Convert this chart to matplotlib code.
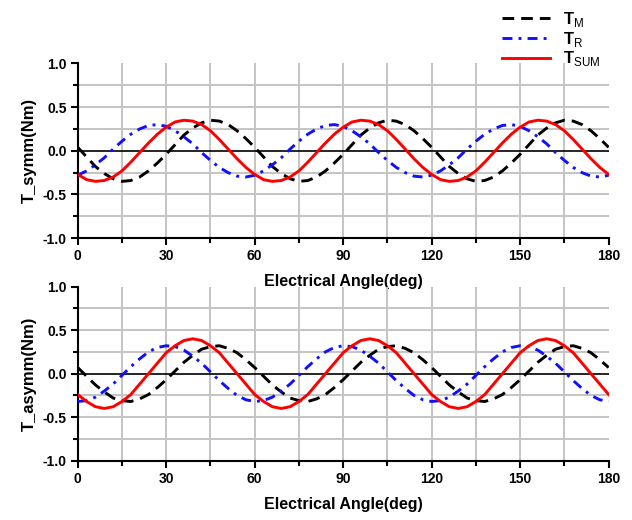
import matplotlib
matplotlib.use('Agg')
import matplotlib.pyplot as plt

plt.rcParams['font.family'] = ['Liberation Sans', 'DejaVu Sans']
plt.rcParams['mathtext.fontset'] = 'custom'
plt.rcParams['mathtext.rm'] = 'Liberation Sans'
plt.rcParams['mathtext.bf'] = 'Liberation Sans:bold'

# electrical angle, every 3 deg from 0 to 180
angle = list(range(0, 181, 3))

# symmetric rotor (top panel)
symm_tm = [0.04, -0.07, -0.18, -0.26, -0.32, -0.35, -0.34, -0.30, -0.23, -0.14,
           -0.04, 0.07, 0.18, 0.26, 0.32, 0.35, 0.34, 0.30, 0.23, 0.14,
           0.04, -0.07, -0.18, -0.26, -0.32, -0.35, -0.34, -0.30, -0.23, -0.14,
           -0.04, 0.07, 0.18, 0.26, 0.32, 0.35, 0.34, 0.30, 0.23, 0.14,
           0.04, -0.07, -0.18, -0.26, -0.32, -0.35, -0.34, -0.30, -0.23, -0.14,
           -0.04, 0.07, 0.18, 0.26, 0.32, 0.35, 0.34, 0.30, 0.23, 0.14,
           0.04]
symm_tr = [-0.28, -0.23, -0.16, -0.08, 0.02, 0.11, 0.19, 0.25, 0.29, 0.30,
           0.28, 0.23, 0.16, 0.08, -0.02, -0.11, -0.19, -0.25, -0.29, -0.30,
           -0.28, -0.23, -0.16, -0.08, 0.02, 0.11, 0.19, 0.25, 0.29, 0.30,
           0.28, 0.23, 0.16, 0.08, -0.02, -0.11, -0.19, -0.25, -0.29, -0.30,
           -0.28, -0.23, -0.16, -0.08, 0.02, 0.11, 0.19, 0.25, 0.29, 0.30,
           0.28, 0.23, 0.16, 0.08, -0.02, -0.11, -0.19, -0.25, -0.29, -0.30,
           -0.28]
symm_tsum = [-0.27, -0.33, -0.35, -0.34, -0.30, -0.23, -0.13, -0.02, 0.09, 0.19,
             0.27, 0.33, 0.35, 0.34, 0.30, 0.23, 0.13, 0.02, -0.09, -0.19,
             -0.27, -0.33, -0.35, -0.34, -0.30, -0.23, -0.13, -0.02, 0.09, 0.19,
             0.27, 0.33, 0.35, 0.34, 0.30, 0.23, 0.13, 0.02, -0.09, -0.19,
             -0.27, -0.33, -0.35, -0.34, -0.30, -0.23, -0.13, -0.02, 0.09, 0.19,
             0.27, 0.33, 0.35, 0.34, 0.30, 0.23, 0.13, 0.02, -0.09, -0.19,
             -0.27]

# asymmetric rotor (bottom panel)
asymm_tm = [0.07, -0.03, -0.13, -0.21, -0.28, -0.31, -0.32, -0.29, -0.24, -0.16,
            -0.07, 0.03, 0.13, 0.21, 0.28, 0.31, 0.32, 0.29, 0.24, 0.16,
            0.07, -0.03, -0.13, -0.21, -0.28, -0.31, -0.32, -0.29, -0.24, -0.16,
            -0.07, 0.03, 0.13, 0.21, 0.28, 0.31, 0.32, 0.29, 0.24, 0.16,
            0.07, -0.03, -0.13, -0.21, -0.28, -0.31, -0.32, -0.29, -0.24, -0.16,
            -0.07, 0.03, 0.13, 0.21, 0.28, 0.31, 0.32, 0.29, 0.24, 0.16,
            0.07]
asymm_tr = [-0.32, -0.31, -0.27, -0.20, -0.12, -0.02, 0.08, 0.17, 0.25, 0.30,
            0.32, 0.31, 0.27, 0.20, 0.12, 0.02, -0.08, -0.17, -0.25, -0.30,
            -0.32, -0.31, -0.27, -0.20, -0.12, -0.02, 0.08, 0.17, 0.25, 0.30,
            0.32, 0.31, 0.27, 0.20, 0.12, 0.02, -0.08, -0.17, -0.25, -0.30,
            -0.32, -0.31, -0.27, -0.20, -0.12, -0.02, 0.08, 0.17, 0.25, 0.30,
            0.32, 0.31, 0.27, 0.20, 0.12, 0.02, -0.08, -0.17, -0.25, -0.30,
            -0.32]
asymm_tsum = [-0.24, -0.32, -0.38, -0.40, -0.38, -0.32, -0.24, -0.12, 0.00, 0.12,
              0.24, 0.32, 0.38, 0.40, 0.38, 0.32, 0.24, 0.12, 0.00, -0.12,
              -0.24, -0.32, -0.38, -0.40, -0.38, -0.32, -0.24, -0.12, 0.00, 0.12,
              0.24, 0.32, 0.38, 0.40, 0.38, 0.32, 0.24, 0.12, 0.00, -0.12,
              -0.24, -0.32, -0.38, -0.40, -0.38, -0.32, -0.24, -0.12, 0.00, 0.12,
              0.24, 0.32, 0.38, 0.40, 0.38, 0.32, 0.24, 0.12, 0.00, -0.12,
              -0.24]

x_ticks = [0, 30, 60, 90, 120, 150, 180]
y_ticks = [-1.0, -0.5, 0.0, 0.5, 1.0]
labels = [r'$\mathbf{T}_{\mathrm{M}}$', r'$\mathbf{T}_{\mathrm{R}}$', r'$\mathbf{T}_{\mathrm{SUM}}$']

fig = plt.figure(figsize=(6.32, 5.2), dpi=100)
ax1 = fig.add_axes([0.123, 0.542, 0.84, 0.336])
ax2 = fig.add_axes([0.123, 0.114, 0.84, 0.335])


def draw(ax, tm, tr, tsum, ylabel):
    ax.patch.set_alpha(0)  # let the upper x label show over the lower panel
    # grey grid, drawn by hand so nothing sits on the 180 edge
    for gx in range(15, 180, 15):
        ax.axvline(gx, color='#c4c4c4', lw=1.4, zorder=0)
    for gy in [-0.75, -0.5, -0.25, 0.25, 0.5, 0.75]:
        ax.axhline(gy, color='#c4c4c4', lw=1.4, zorder=0)
    ax.axhline(0, color='black', lw=1.2, zorder=1)

    l1, = ax.plot(angle, tm, color='black', lw=2.1, dashes=(4, 2.4), zorder=3)
    l2, = ax.plot(angle, tr, color='#1010ff', lw=2.1, dashes=(3.4, 2.1, 1.0, 2.1), zorder=3)
    l3, = ax.plot(angle, tsum, color='#ff0000', lw=2.1, zorder=4)

    ax.set_xlim(0, 180)
    ax.set_ylim(-1.0, 1.0)
    ax.set_xticks(x_ticks)
    ax.set_xticks(range(15, 180, 30), minor=True)
    ax.set_yticks(y_ticks)
    ax.set_yticks([-0.75, -0.25, 0.25, 0.75], minor=True)
    ax.set_yticklabels(['%.1f' % v for v in y_ticks])
    for side in ['top', 'right']:
        ax.spines[side].set_visible(False)
    for side in ['left', 'bottom']:
        ax.spines[side].set_linewidth(1.5)
    ax.tick_params(which='major', direction='out', length=5, width=1.5, labelsize=10, pad=3)
    ax.tick_params(which='minor', direction='out', length=3.5, width=1.5)
    for t in ax.get_xticklabels() + ax.get_yticklabels():
        t.set_fontweight('bold')
    ax.set_xlabel('Electrical Angle(deg)', fontsize=11.5, fontweight='bold', labelpad=8)
    ax.set_ylabel(ylabel, fontsize=12, fontweight='bold', labelpad=4)
    return l1, l2, l3


handles = draw(ax1, symm_tm, symm_tr, symm_tsum, 'T_symm(Nm)')
draw(ax2, asymm_tm, asymm_tr, asymm_tsum, 'T_asymm(Nm)')

fig.legend(handles, labels, loc='upper left', bbox_to_anchor=(0.77, 1.01),
           frameon=False, fontsize=12, handlelength=2.9, labelspacing=0.05,
           handletextpad=0.8)

fig.savefig('out.png', dpi=100)
